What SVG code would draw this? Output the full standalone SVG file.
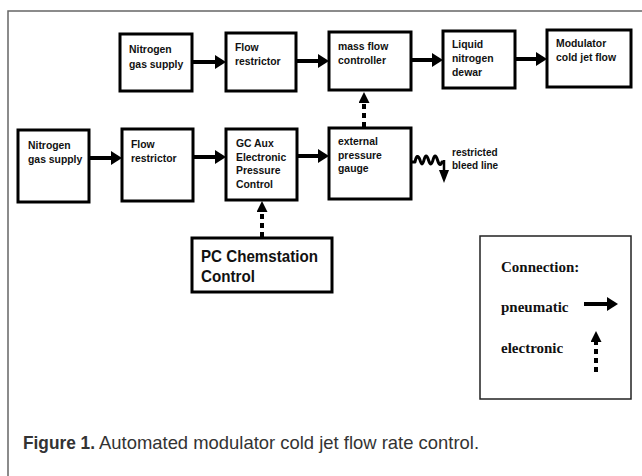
<svg xmlns="http://www.w3.org/2000/svg" width="642" height="476" viewBox="0 0 642 476">
<style>
.box{fill:#fff;stroke:#000;stroke-width:3}
.t{font-family:"Liberation Sans",Arial,sans-serif;font-weight:bold;font-size:10.4px;fill:#111}
.big{font-family:"Liberation Sans",Arial,sans-serif;font-weight:bold;font-size:17px;fill:#111}
.leg{font-family:"Liberation Serif","Times New Roman",serif;font-weight:bold;font-size:15px;fill:#111}
.pn{stroke:#000;stroke-width:4;fill:none}
.el{stroke:#000;stroke-width:4;fill:none;stroke-dasharray:5 4}
.cap{font-family:"Liberation Sans",Arial,sans-serif;font-size:19px;fill:#333}
</style>
<defs>
<marker id="ah" markerUnits="userSpaceOnUse" markerWidth="11" markerHeight="14" refX="0" refY="7" orient="auto">
<path d="M0,0 L11,7 L0,14 z" fill="#000"/>
</marker>
<marker id="eh" markerUnits="userSpaceOnUse" markerWidth="11" markerHeight="11" refX="0" refY="5.5" orient="auto">
<path d="M0,0 L11,5.5 L0,11 z" fill="#000"/>
</marker>
</defs>
<rect width="642" height="476" fill="#fff"/>
<path d="M8,480 L8,11 L645,11" fill="none" stroke="#666" stroke-width="1.5"/>

<g id="connectors">
<line class="pn" x1="192" y1="62" x2="215" y2="62" marker-end="url(#ah)"/>
<line class="pn" x1="296" y1="61" x2="318" y2="61" marker-end="url(#ah)"/>
<line class="pn" x1="411" y1="60" x2="432" y2="60" marker-end="url(#ah)"/>
<line class="pn" x1="515" y1="59" x2="536" y2="59" marker-end="url(#ah)"/>
<line class="pn" x1="89" y1="158" x2="111" y2="158" marker-end="url(#ah)"/>
<line class="pn" x1="193" y1="157" x2="215" y2="157" marker-end="url(#ah)"/>
<line class="pn" x1="297" y1="156" x2="318" y2="156" marker-end="url(#ah)"/>
<line class="el" x1="262" y1="237" x2="262" y2="212" marker-end="url(#eh)"/>
<line class="el" x1="364" y1="127" x2="364" y2="103" marker-end="url(#eh)"/>
<path d="M411,162 L415,162 Q417,152 420,160 Q422,168 424,160 Q426,152 428.5,160 Q431,168 433,160 Q435,152 437.5,160 Q440,168 442,162" fill="none" stroke="#000" stroke-width="3" stroke-linejoin="round" stroke-linecap="round"/>
<line x1="444" y1="160" x2="444" y2="172" stroke="#000" stroke-width="2.5"/>
<path d="M439,170 L449,170 L444,183 z" fill="#000"/>
</g>

<g id="n2top">
<rect class="box" x="120" y="34" width="72" height="57"/>
<text class="t" x="129" y="53">Nitrogen</text>
<text class="t" x="129" y="67.5">gas supply</text>
</g>
<g id="fr-top">
<rect class="box" x="226" y="33" width="70" height="58"/>
<text class="t" x="235" y="51">Flow</text>
<text class="t" x="235" y="65">restrictor</text>
</g>
<g id="mfc">
<rect class="box" x="329" y="32" width="82" height="58"/>
<text class="t" x="338" y="50">mass flow</text>
<text class="t" x="338" y="64">controller</text>
</g>
<g id="dewar">
<rect class="box" x="443" y="31" width="72" height="57"/>
<text class="t" x="452" y="48">Liquid</text>
<text class="t" x="452" y="62">nitrogen</text>
<text class="t" x="452" y="76">dewar</text>
</g>
<g id="modulator">
<rect class="box" x="547" y="30" width="84" height="57"/>
<text class="t" x="556" y="47">Modulator</text>
<text class="t" x="556" y="61">cold jet flow</text>
</g>

<g id="n2bottom">
<rect class="box" x="18" y="130" width="71" height="72"/>
<text class="t" x="28" y="149">Nitrogen</text>
<text class="t" x="28" y="163">gas supply</text>
</g>
<g id="fr-bottom">
<rect class="box" x="122" y="129" width="71" height="72"/>
<text class="t" x="131" y="148">Flow</text>
<text class="t" x="131" y="162">restrictor</text>
</g>
<g id="gcaux">
<rect class="box" x="226" y="129" width="71" height="71"/>
<text class="t" x="236" y="147">GC Aux</text>
<text class="t" x="236" y="160.7">Electronic</text>
<text class="t" x="236" y="174.4">Pressure</text>
<text class="t" x="236" y="188">Control</text>
</g>
<g id="gauge">
<rect class="box" x="329" y="128" width="82" height="71"/>
<text class="t" x="338" y="145">external</text>
<text class="t" x="338" y="158.5">pressure</text>
<text class="t" x="338" y="172">gauge</text>
</g>
<g id="bleed">
<text class="t" x="452" y="156" style="font-size:10px">restricted</text>
<text class="t" x="452" y="169" style="font-size:10px">bleed line</text>
</g>
<g id="pc">
<rect class="box" x="192" y="238" width="140" height="54"/>
<text class="big" x="201" y="262" textLength="117" lengthAdjust="spacingAndGlyphs">PC Chemstation</text>
<text class="big" x="201" y="282" textLength="54" lengthAdjust="spacingAndGlyphs">Control</text>
</g>

<g id="legend">
<rect x="480" y="236" width="151" height="163" fill="#fff" stroke="#222" stroke-width="1.5"/>
<text class="leg" x="501" y="272">Connection:</text>
<text class="leg" x="501" y="312">pneumatic</text>
<text class="leg" x="501" y="353">electronic</text>
<line class="pn" x1="584" y1="304" x2="607" y2="304" marker-end="url(#ah)"/>
<line class="el" x1="596" y1="372" x2="596" y2="342" marker-end="url(#eh)"/>
</g>

<g id="caption">
<text class="cap" x="23" y="449" font-weight="bold" textLength="72" lengthAdjust="spacingAndGlyphs">Figure 1.</text>
<text class="cap" x="99" y="449" textLength="380" lengthAdjust="spacingAndGlyphs">Automated modulator cold jet flow rate control.</text>
</g>
</svg>
